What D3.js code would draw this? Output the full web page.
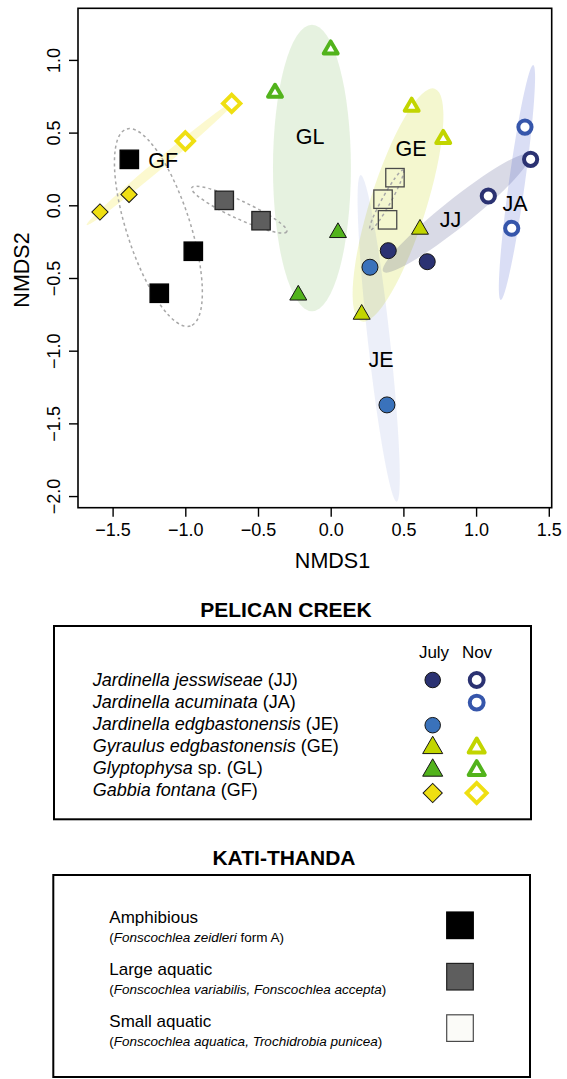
<!DOCTYPE html>
<html>
<head>
<meta charset="utf-8">
<script src="https://cdn.jsdelivr.net/npm/d3@7"></script>
<style>
  body { margin: 0; background: #fff; }
  svg { display: block; font-family: "Liberation Sans", Arial, Helvetica, sans-serif; }
</style>
</head>
<body>
<svg id="chart" width="567" height="1079"></svg>
<script>
// NMDS scores
var julyPts = [
    { sp: "JJ", x: 0.396, y: -0.312 },
    { sp: "JJ", x: 0.664, y: -0.388 },
    { sp: "JE", x: 0.270, y: -0.426 },
    { sp: "JE", x: 0.387, y: -1.373 },
    { sp: "GE", x: 0.614, y: -0.165 },
    { sp: "GE", x: 0.213, y: -0.750 },
    { sp: "GL", x: 0.050, y: -0.188 },
    { sp: "GL", x: -0.223, y: -0.618 },
    { sp: "GF", x: -1.587, y: -0.046 },
    { sp: "GF", x: -1.387, y: 0.075 }
];
var novPts = [
    { sp: "JJ", x: 1.084, y: 0.064 },
    { sp: "JJ", x: 1.375, y: 0.316 },
    { sp: "JA", x: 1.336, y: 0.538 },
    { sp: "JA", x: 1.245, y: -0.158 },
    { sp: "GE", x: 0.557, y: 0.678 },
    { sp: "GE", x: 0.774, y: 0.456 },
    { sp: "GL", x: 0.000, y: 1.072 },
    { sp: "GL", x: -0.383, y: 0.774 },
    { sp: "GF", x: -1.000, y: 0.442 },
    { sp: "GF", x: -0.681, y: 0.701 }
];
var katiPts = [
    { grp: "Amphibious", x: -1.385, y: 0.316 },
    { grp: "Amphibious", x: -0.945, y: -0.316 },
    { grp: "Amphibious", x: -1.179, y: -0.605 },
    { grp: "Large", x: -0.732, y: 0.034 },
    { grp: "Large", x: -0.479, y: -0.106 },
    { grp: "Small", x: 0.442, y: 0.190 },
    { grp: "Small", x: 0.360, y: 0.042 },
    { grp: "Small", x: 0.391, y: -0.100 }
];
// confidence ellipses: centre, semi axes, angle (deg) in NMDS units
var ellipsePelican = [
    { sp: "GL", cx: -0.129, cy: 0.257, a: 0.985, b: 0.268, angle: 90 },
    { sp: "GE", cx: 0.463, cy: 0.002, a: 0.839, b: 0.193, angle: 72.5 },
    { sp: "JE", cx: 0.330, cy: -0.915, a: 1.130, b: 0.076, angle: 96.3 },
    { sp: "JJ", cx: 0.864, cy: -0.055, a: 0.643, b: 0.096, angle: 38.6 },
    { sp: "JA", cx: 1.281, cy: 0.157, a: 0.816, b: 0.055, angle: 82.1 },
    { sp: "GF", cx: -1.168, cy: 0.291, a: 0.665, b: 0.034, angle: 39.9 }
];
var ellipseKati = [
    { grp: "Amphibious", cx: -1.185, cy: -0.153, a: 0.712, b: 0.218, angle: -72 },
    { grp: "Large", cx: -0.629, cy: -0.030, a: 0.360, b: 0.062, angle: -24.8 },
    { grp: "Small", cx: 0.385, cy: 0.036, a: 0.236, b: 0.031, angle: 61 }
];
var groupLabels = [
    { t: "GF", x: -1.152, y: 0.311 },
    { t: "GL", x: -0.142, y: 0.473 },
    { t: "GE", x: 0.552, y: 0.391 },
    { t: "JJ", x: 0.824, y: -0.098 },
    { t: "JA", x: 1.268, y: 0.012 },
    { t: "JE", x: 0.346, y: -1.057 }
];
var xTicks = [-1.5, -1.0, -0.5, 0.0, 0.5, 1.0, 1.5];
var yTicks = [-2.0, -1.5, -1.0, -0.5, 0.0, 0.5, 1.0];

var pelicanLegend = [
    { sp: "JJ", name: "Jardinella jesswiseae", rest: " (JJ)", july: true, nov: true },
    { sp: "JA", name: "Jardinella acuminata", rest: " (JA)", july: false, nov: true },
    { sp: "JE", name: "Jardinella edgbastonensis", rest: " (JE)", july: true, nov: false },
    { sp: "GE", name: "Gyraulus edgbastonensis", rest: " (GE)", july: true, nov: true },
    { sp: "GL", name: "Glyptophysa", rest: " sp. (GL)", july: true, nov: true },
    { sp: "GF", name: "Gabbia fontana", rest: " (GF)", july: true, nov: true }
];
var katiLegend = [
    { grp: "Amphibious", title: "Amphibious", sub: [["(", 0], ["Fonscochlea zeidleri", 1], [" form A)", 0]] },
    { grp: "Large", title: "Large aquatic", sub: [["(", 0], ["Fonscochlea variabilis, Fonscochlea accepta", 1], [")", 0]] },
    { grp: "Small", title: "Small aquatic", sub: [["(", 0], ["Fonscochlea aquatica, Trochidrobia punicea", 1], [")", 0]] }
];

// styles
var spStyle = {
    JJ: { shape: "circle", color: "#2b3272", ell: "#2b3272", op: 0.18 },
    JA: { shape: "circle", color: "#3656ab", ell: "#3c50c8", op: 0.19 },
    JE: { shape: "circle", color: "#3a72bb", ell: "#4664c8", op: 0.1 },
    GE: { shape: "triangle", color: "#c2d500", ell: "#c5d400", op: 0.19 },
    GL: { shape: "triangle", color: "#52b31c", ell: "#5aaa32", op: 0.15 },
    GF: { shape: "diamond", color: "#efdf12", ell: "#f0e010", op: 0.2 }
};
var katiStyle = {
    Amphibious: { fill: "#000", stroke: "#000" },
    Large: { fill: "#5e5e5e", stroke: "#222" },
    Small: { fill: "none", stroke: "#4a4a4a" }
};

var svg = d3.select("#chart");
var plotL = 78, plotR = 551.7, plotT = 8.3, plotB = 507.7;

var x = d3.scaleLinear().domain([-1.738, 1.520]).range([plotL, plotR]);
var y = d3.scaleLinear().domain([-2.080, 1.355]).range([plotB, plotT]);

function fmt(d) {
    return d3.format(".1f")(d).replace("-", "\u2212");
}

// ellipses
function ellipse(g, d) {
    return g.append("ellipse")
        .attr("cx", x(d.cx))
        .attr("cy", y(d.cy))
        .attr("rx", x(d.a) - x(0))
        .attr("ry", x(d.b) - x(0))
        .attr("transform", "rotate(" + (-d.angle) + "," + x(d.cx) + "," + y(d.cy) + ")");
}

var gEll = svg.append("g");
ellipsePelican.forEach(function (d) {
    ellipse(gEll, d)
        .attr("fill", spStyle[d.sp].ell)
        .attr("fill-opacity", spStyle[d.sp].op);
});
ellipseKati.forEach(function (d) {
    ellipse(gEll, d)
        .attr("fill", "none")
        .attr("stroke", "#a8a8a8")
        .attr("stroke-width", 1.5)
        .attr("stroke-dasharray", "3,3");
});

// markers
var triPath = function (side) {
    return d3.symbol().type(d3.symbolTriangle).size(Math.sqrt(3) / 4 * side * side)();
};

function marker(g, sp, filled, s) {
    var st = spStyle[sp];
    var el;
    if (st.shape === "circle") {
        el = g.append("circle").attr("r", (filled ? 8 : 6.6) * s);
    } else if (st.shape === "triangle") {
        el = g.append("path").attr("d", triPath((filled ? 17 : 14) * s))
            .attr("stroke-linejoin", filled ? "miter" : "round");
    } else {
        var side = (filled ? 11.5 : 12.3) * s;
        el = g.append("rect")
            .attr("x", -side / 2).attr("y", -side / 2)
            .attr("width", side).attr("height", side)
            .attr("transform", "rotate(45)");
    }
    if (filled) {
        el.attr("fill", st.color).attr("stroke", "#151515").attr("stroke-width", 1);
    } else {
        el.attr("fill", "#fff").attr("stroke", st.color)
            .attr("stroke-width", st.shape === "circle" ? 4 : 3.9);
    }
}

var gPts = svg.append("g");
katiPts.forEach(function (d) {
    var k = katiStyle[d.grp];
    gPts.append("rect")
        .attr("x", x(d.x) - 9.2).attr("y", y(d.y) - 9.2)
        .attr("width", 18.4).attr("height", 18.4)
        .attr("fill", k.fill)
        .attr("stroke", k.stroke)
        .attr("stroke-width", 1.3);
});
julyPts.forEach(function (d) {
    marker(gPts.append("g").attr("transform", "translate(" + x(d.x) + "," + y(d.y) + ")"), d.sp, true, 1);
});
novPts.forEach(function (d) {
    marker(gPts.append("g").attr("transform", "translate(" + x(d.x) + "," + y(d.y) + ")"), d.sp, false, 1);
});

svg.append("g").selectAll("text")
    .data(groupLabels)
    .join("text")
    .attr("x", function (d) { return x(d.x); })
    .attr("y", function (d) { return y(d.y); })
    .attr("dy", "0.36em")
    .attr("text-anchor", "middle")
    .attr("font-size", 21.5)
    .text(function (d) { return d.t; });

// axes
var gx = svg.append("g")
    .attr("transform", "translate(0," + plotB + ")")
    .call(d3.axisBottom(x).tickValues(xTicks).tickFormat(fmt).tickSize(9).tickPadding(7));
var gy = svg.append("g")
    .attr("transform", "translate(" + plotL + ",0)")
    .call(d3.axisLeft(y).tickValues(yTicks).tickFormat(fmt).tickSize(9));
[gx, gy].forEach(function (g) {
    g.select(".domain").remove();
    g.selectAll("line").attr("stroke", "#000").attr("stroke-width", 1.4);
    g.selectAll("text").attr("font-size", 18).attr("fill", "#000")
        .attr("font-family", "Liberation Sans, Arial, sans-serif");
});
gy.selectAll(".tick text")
    .attr("x", null).attr("dy", null)
    .attr("text-anchor", "middle")
    .attr("transform", "translate(-18,0) rotate(-90)");

svg.append("rect")
    .attr("x", plotL).attr("y", plotT)
    .attr("width", plotR - plotL).attr("height", plotB - plotT)
    .attr("fill", "none").attr("stroke", "#000").attr("stroke-width", 1.6);

svg.append("text")
    .attr("x", 332.5).attr("y", 568)
    .attr("text-anchor", "middle").attr("font-size", 21.5)
    .text("NMDS1");
svg.append("text")
    .attr("transform", "translate(28.5,270) rotate(-90)")
    .attr("text-anchor", "middle").attr("font-size", 21.5)
    .text("NMDS2");

// legend: Pelican Creek
var lg1 = svg.append("g");
lg1.append("text")
    .attr("x", 286).attr("y", 617)
    .attr("text-anchor", "middle").attr("font-size", 21).attr("font-weight", "bold")
    .text("PELICAN CREEK");
lg1.append("rect")
    .attr("x", 54).attr("y", 626).attr("width", 477).attr("height", 193.3)
    .attr("fill", "none").attr("stroke", "#000").attr("stroke-width", 2);
lg1.append("text").attr("x", 434).attr("y", 658).attr("text-anchor", "middle")
    .attr("font-size", 17).text("July");
lg1.append("text").attr("x", 477).attr("y", 658).attr("text-anchor", "middle")
    .attr("font-size", 17).text("Nov");

pelicanLegend.forEach(function (d, i) {
    var t = lg1.append("text")
        .attr("x", 92.7).attr("y", 686 + i * 21.9)
        .attr("font-size", 18);
    t.append("tspan").attr("font-style", "italic").text(d.name);
    t.append("tspan").text(d.rest);
    var my = 680 + i * 22.6;
    if (d.july) marker(lg1.append("g").attr("transform", "translate(432.7," + my + ")"), d.sp, true,
        spStyle[d.sp].shape === "circle" ? 0.97 : 1.18);
    if (d.nov) marker(lg1.append("g").attr("transform", "translate(476.7," + my + ")"), d.sp, false,
        spStyle[d.sp].shape === "circle" ? 1.05 : 1.15);
});

// legend: Kati-Thanda
var lg2 = svg.append("g");
lg2.append("text")
    .attr("x", 284).attr("y", 865)
    .attr("text-anchor", "middle").attr("font-size", 21).attr("font-weight", "bold")
    .text("KATI-THANDA");
lg2.append("rect")
    .attr("x", 53.3).attr("y", 875).attr("width", 476.7).attr("height", 202)
    .attr("fill", "none").attr("stroke", "#000").attr("stroke-width", 2);

katiLegend.forEach(function (d, i) {
    var by = 922.7 + i * 52;
    lg2.append("text").attr("x", 109.3).attr("y", by).attr("font-size", 17).text(d.title);
    var s = lg2.append("text").attr("x", 109.3).attr("y", by + 19).attr("font-size", 13.5);
    d.sub.forEach(function (p) {
        s.append("tspan").attr("font-style", p[1] ? "italic" : "normal").text(p[0]);
    });
    var k = katiStyle[d.grp];
    lg2.append("rect")
        .attr("x", 460 - 13.3).attr("y", 925.3 + i * 51.4 - 13.3)
        .attr("width", 26.6).attr("height", 26.6)
        .attr("fill", k.fill === "none" ? "#fbfbf8" : k.fill)
        .attr("stroke", k.stroke).attr("stroke-width", 1.2);
});
</script>
</body>
</html>
